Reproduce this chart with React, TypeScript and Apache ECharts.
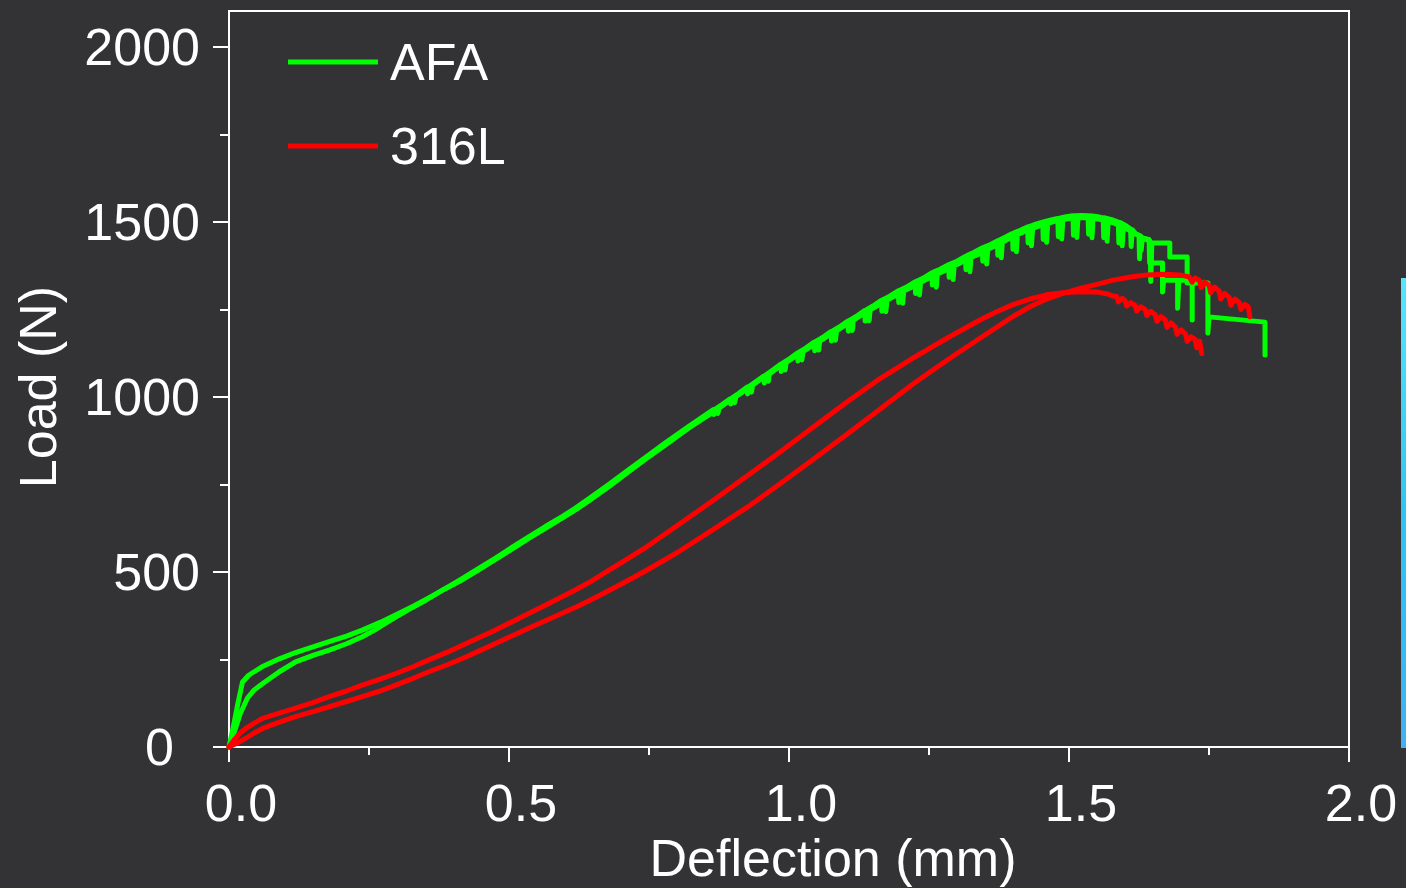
import React, { useEffect, useRef } from 'react';
import * as echarts from 'echarts';

const FONT = '"Liberation Sans", Arial, Helvetica, sans-serif';

const legendNames = ['AFA', '316L'];
const xTickValues = [0, 0.5, 1.0, 1.5, 2.0];
const yMajorTicks = [0, 500, 1000, 1500, 2000];
const yMinorTicks = [250, 750, 1250, 1750];

// AFA specimen 1 (upper at small deflection, ends ~1.85 mm)
const afa1: number[][] = [
  [0, 0], [0.008, 60], [0.016, 125], [0.024, 185], [0.035, 205], [0.059, 229], [0.09, 252], [0.119, 270],
  [0.15, 286], [0.179, 301], [0.21, 317], [0.238, 334], [0.27, 356], [0.3, 379], [0.33, 403], [0.36, 429],
  [0.39, 456], [0.417, 482], [0.446, 510], [0.476, 540], [0.506, 571], [0.536, 601], [0.565, 630], [0.595, 658],
  [0.62, 684], [0.643, 710], [0.68, 752], [0.71, 788], [0.746, 830], [0.78, 870], [0.82, 915], [0.85, 948],
  [0.865, 964], [0.866, 950], [0.868, 965], [0.88, 978], [0.895, 995], [0.896, 980], [0.898, 997], [0.91, 1010],
  [0.925, 1028], [0.926, 1009], [0.928, 1029], [0.94, 1043], [0.955, 1060], [0.956, 1040], [0.958, 1062], [0.97, 1076],
  [0.985, 1094], [0.986, 1073], [0.988, 1096], [1.0, 1108], [1.015, 1126], [1.016, 1103], [1.018, 1128], [1.03, 1140],
  [1.045, 1157], [1.046, 1132], [1.048, 1159], [1.06, 1170], [1.075, 1187], [1.076, 1160], [1.078, 1189], [1.09, 1200],
  [1.105, 1217], [1.106, 1188], [1.108, 1219], [1.12, 1230], [1.135, 1247], [1.136, 1217], [1.138, 1249], [1.15, 1260],
  [1.165, 1276], [1.166, 1245], [1.168, 1278], [1.18, 1288], [1.195, 1303], [1.196, 1270], [1.198, 1305], [1.21, 1314],
  [1.225, 1329], [1.226, 1296], [1.228, 1331], [1.24, 1340], [1.255, 1355], [1.256, 1320], [1.258, 1357], [1.27, 1365],
  [1.285, 1378], [1.286, 1342], [1.288, 1380], [1.3, 1388], [1.315, 1402], [1.316, 1364], [1.318, 1404], [1.33, 1413],
  [1.345, 1426], [1.346, 1388], [1.348, 1428], [1.36, 1436], [1.372, 1446], [1.373, 1405], [1.375, 1448], [1.387, 1457],
  [1.399, 1467], [1.4, 1422], [1.402, 1469], [1.414, 1477], [1.426, 1486], [1.427, 1440], [1.429, 1487], [1.441, 1494],
  [1.453, 1500], [1.454, 1450], [1.456, 1501], [1.468, 1506], [1.48, 1510], [1.481, 1458], [1.483, 1511], [1.495, 1515],
  [1.507, 1518], [1.508, 1462], [1.51, 1518], [1.522, 1519], [1.534, 1518], [1.535, 1465], [1.537, 1518], [1.549, 1516],
  [1.561, 1512], [1.562, 1455], [1.564, 1512], [1.576, 1507], [1.588, 1500], [1.589, 1440], [1.591, 1499], [1.603, 1488],
  [1.61, 1480], [1.611, 1430], [1.613, 1478], [1.62, 1465], [1.628, 1460], [1.629, 1420], [1.631, 1455], [1.645, 1445],
  [1.646, 1330], [1.648, 1440], [1.68, 1440], [1.68, 1400], [1.711, 1400], [1.711, 1326], [1.748, 1326], [1.748, 1183],
  [1.75, 1229], [1.85, 1214], [1.85, 1120],
];

// AFA specimen 2 (lower at small deflection, ends ~1.72 mm)
const afa2: number[][] = [
  [0, 0], [0.01, 45], [0.02, 95], [0.033, 140], [0.045, 163], [0.059, 180], [0.09, 215], [0.119, 243],
  [0.15, 262], [0.179, 277], [0.21, 295], [0.238, 315], [0.26, 334], [0.28, 354], [0.3, 373], [0.32, 392],
  [0.35, 418], [0.38, 447], [0.417, 478], [0.446, 506], [0.476, 536], [0.506, 566], [0.536, 597], [0.565, 625],
  [0.595, 654], [0.62, 679], [0.643, 704], [0.68, 746], [0.71, 782], [0.746, 825], [0.78, 864], [0.82, 910],
  [0.85, 942], [0.858, 950], [0.872, 966], [0.873, 953], [0.875, 968], [0.887, 982], [0.902, 999], [0.903, 984],
  [0.905, 1001], [0.917, 1014], [0.932, 1032], [0.933, 1014], [0.935, 1034], [0.947, 1048], [0.962, 1064], [0.963, 1045],
  [0.965, 1066], [0.977, 1080], [0.992, 1097], [0.993, 1077], [0.995, 1099], [1.007, 1112], [1.022, 1128], [1.023, 1106],
  [1.025, 1130], [1.037, 1142], [1.052, 1158], [1.053, 1134], [1.055, 1160], [1.067, 1172], [1.082, 1188], [1.083, 1162],
  [1.085, 1190], [1.097, 1202], [1.112, 1218], [1.113, 1190], [1.115, 1220], [1.127, 1232], [1.142, 1247], [1.143, 1218],
  [1.145, 1249], [1.157, 1260], [1.172, 1275], [1.173, 1244], [1.175, 1277], [1.187, 1287], [1.202, 1301], [1.203, 1268],
  [1.205, 1303], [1.217, 1312], [1.232, 1326], [1.233, 1292], [1.235, 1328], [1.247, 1337], [1.262, 1350], [1.263, 1314],
  [1.265, 1352], [1.277, 1360], [1.292, 1373], [1.293, 1336], [1.295, 1375], [1.307, 1384], [1.322, 1397], [1.323, 1358],
  [1.325, 1399], [1.337, 1407], [1.352, 1420], [1.353, 1380], [1.355, 1422], [1.366, 1430], [1.378, 1441], [1.379, 1398],
  [1.381, 1443], [1.393, 1452], [1.405, 1462], [1.406, 1415], [1.408, 1464], [1.42, 1473], [1.432, 1481], [1.433, 1432],
  [1.435, 1482], [1.447, 1489], [1.459, 1495], [1.46, 1442], [1.462, 1496], [1.474, 1502], [1.486, 1506], [1.487, 1452],
  [1.489, 1507], [1.501, 1510], [1.513, 1512], [1.514, 1456], [1.516, 1512], [1.528, 1512], [1.54, 1511], [1.541, 1455],
  [1.543, 1511], [1.555, 1508], [1.567, 1503], [1.568, 1445], [1.57, 1502], [1.582, 1496], [1.594, 1487], [1.595, 1432],
  [1.597, 1486], [1.606, 1478], [1.616, 1468], [1.625, 1462], [1.626, 1395], [1.628, 1455], [1.643, 1450], [1.644, 1383],
  [1.667, 1383], [1.667, 1300], [1.669, 1334], [1.694, 1334], [1.694, 1254], [1.696, 1334], [1.72, 1334], [1.72, 1220],
];

// 316L specimen 1 (upper at small deflection, peak ~1300 N)
const ss1: number[][] = [
  [0, 0], [0.01, 22], [0.02, 40], [0.03, 53], [0.045, 68], [0.06, 82], [0.09, 97], [0.119, 111],
  [0.15, 127], [0.179, 144], [0.21, 160], [0.238, 177], [0.27, 194], [0.298, 210], [0.33, 230], [0.357, 249],
  [0.39, 271], [0.417, 291], [0.446, 312], [0.476, 334], [0.506, 358], [0.536, 382], [0.565, 405], [0.595, 429],
  [0.62, 450], [0.643, 470], [0.67, 497], [0.7, 526], [0.746, 572], [0.8, 632], [0.865, 705], [0.93, 780],
  [0.984, 843], [1.04, 910], [1.103, 985], [1.16, 1050], [1.222, 1112], [1.282, 1168], [1.341, 1220], [1.37, 1243],
  [1.4, 1264], [1.43, 1280], [1.46, 1292], [1.49, 1298], [1.52, 1301], [1.55, 1300], [1.57, 1294], [1.579, 1288],
  [1.585, 1288], [1.588, 1272], [1.595, 1282], [1.6, 1276], [1.603, 1260], [1.61, 1270], [1.618, 1262], [1.621, 1246],
  [1.628, 1258], [1.636, 1250], [1.639, 1233], [1.646, 1245], [1.654, 1235], [1.657, 1216], [1.664, 1230], [1.672, 1220],
  [1.675, 1199], [1.682, 1212], [1.69, 1200], [1.693, 1179], [1.7, 1192], [1.708, 1180], [1.711, 1159], [1.718, 1172],
  [1.725, 1165], [1.728, 1141], [1.733, 1160], [1.737, 1124],
];

// 316L specimen 2 (lower at small deflection, peak ~1350 N)
const ss2: number[][] = [
  [0, 0], [0.01, 8], [0.02, 16], [0.03, 25], [0.045, 40], [0.06, 53], [0.09, 71], [0.119, 87],
  [0.15, 101], [0.179, 115], [0.21, 130], [0.238, 144], [0.27, 160], [0.298, 177], [0.33, 197], [0.357, 215],
  [0.39, 235], [0.417, 253], [0.446, 274], [0.476, 296], [0.506, 318], [0.536, 340], [0.565, 361], [0.595, 382],
  [0.62, 400], [0.643, 418], [0.67, 440], [0.7, 465], [0.746, 505], [0.8, 555], [0.865, 622], [0.93, 690],
  [0.984, 752], [1.04, 818], [1.103, 893], [1.16, 962], [1.222, 1038], [1.282, 1105], [1.341, 1168], [1.4, 1230],
  [1.43, 1258], [1.46, 1280], [1.49, 1297], [1.52, 1310], [1.55, 1322], [1.579, 1334], [1.61, 1343], [1.639, 1349],
  [1.67, 1351], [1.698, 1349], [1.715, 1343], [1.72, 1328], [1.725, 1340], [1.733, 1333], [1.736, 1312], [1.742, 1328],
  [1.75, 1320], [1.753, 1298], [1.76, 1314], [1.768, 1303], [1.771, 1280], [1.778, 1296], [1.786, 1285], [1.789, 1262],
  [1.796, 1280], [1.804, 1270], [1.807, 1250], [1.814, 1265], [1.82, 1258], [1.823, 1229],
];

const GREEN = '#00ff00';
const RED = '#ff0000';
const WHITE = '#ffffff';

export default function App() {
  const ref = useRef<HTMLDivElement>(null);

  useEffect(() => {
    if (!ref.current) return;
    const chart = echarts.init(ref.current, null, { renderer: 'svg' });
    const lineSeries = (name: string, data: number[][], color: string) => ({
      name,
      type: 'line',
      data,
      showSymbol: false,
      symbol: 'none',
      clip: false,
      color,
      lineStyle: { color, width: 5, join: 'round', cap: 'round' },
      emphasis: { disabled: true },
    });
    chart.setOption({
      animation: false,
      backgroundColor: '#333335',
      textStyle: { fontFamily: FONT },
      grid: {
        left: 229, right: 57, top: 11, bottom: 141,
        show: true, borderColor: WHITE, borderWidth: 2, backgroundColor: 'transparent',
      },
      legend: {
        data: legendNames,
        orient: 'vertical',
        left: 288,
        top: 32,
        padding: 0,
        itemGap: 24,
        itemWidth: 90,
        itemHeight: 5,
        icon: 'rect',
        selectedMode: false,
        textStyle: { color: WHITE, fontSize: 52, lineHeight: 60, fontFamily: FONT, padding: [0, 0, 0, 7] },
      },
      xAxis: {
        type: 'value',
        min: 0,
        max: 2,
        interval: 0.5,
        axisLine: { show: true, onZero: false, lineStyle: { color: WHITE, width: 2 } },
        axisTick: { show: true, inside: false, length: 15, lineStyle: { color: WHITE, width: 2 } },
        minorTick: { show: true, splitNumber: 2, length: 8, lineStyle: { color: WHITE, width: 2 } },
        splitLine: { show: false },
        minorSplitLine: { show: false },
        axisLabel: {
          color: WHITE, fontSize: 52, fontFamily: FONT, margin: 30, padding: [0, 0, 0, 24],
          formatter: (v: number) => (xTickValues.indexOf(v) >= 0 ? v.toFixed(1) : ''),
        },
      },
      yAxis: [
        {
          type: 'value',
          min: 0,
          max: 2103,
          position: 'left',
          axisLine: { show: true, onZero: false, lineStyle: { color: WHITE, width: 2 } },
          axisTick: { show: true, inside: false, length: 16, customValues: yMajorTicks, lineStyle: { color: WHITE, width: 2 } },
          axisLabel: {
            color: WHITE, fontSize: 52, fontFamily: FONT, margin: 29, customValues: yMajorTicks,
            formatter: (v: number) => (v === 0 ? '{z|0}' : String(v)),
            rich: { z: { color: WHITE, fontSize: 52, fontFamily: FONT, padding: [0, 26, 0, 0] } },
          },
          splitLine: { show: false },
        },
        {
          type: 'value',
          min: 0,
          max: 2103,
          position: 'left',
          axisLine: { show: false },
          axisTick: { show: true, inside: false, length: 9, customValues: yMinorTicks, lineStyle: { color: WHITE, width: 2 } },
          axisLabel: { show: false },
          splitLine: { show: false },
        },
      ],
      graphic: [
        {
          type: 'text', x: 38, y: 387, rotation: Math.PI / 2,
          style: { text: 'Load (N)', fill: WHITE, fontSize: 52, fontFamily: FONT, align: 'center', verticalAlign: 'middle' },
        },
        {
          type: 'text', x: 833, y: 858,
          style: { text: 'Deflection (mm)', fill: WHITE, fontSize: 52, fontFamily: FONT, align: 'center', verticalAlign: 'middle' },
        },
        {
          type: 'rect', shape: { x: 1401, y: 278, width: 5, height: 470 },
          style: {
            fill: new echarts.graphic.LinearGradient(0, 0, 0, 1, [
              { offset: 0, color: '#55e6ff' },
              { offset: 0.5, color: '#2cc6f4' },
              { offset: 1, color: '#3fb2f2' },
            ]),
          },
        },
      ],
      series: [
        lineSeries('AFA', afa1, GREEN),
        lineSeries('AFA', afa2, GREEN),
        lineSeries('316L', ss1, RED),
        lineSeries('316L', ss2, RED),
      ],
    });
    return () => chart.dispose();
  }, []);

  return <div ref={ref} style={{ position: 'fixed', left: 0, top: 0, width: 1406, height: 888 }} />;
}
